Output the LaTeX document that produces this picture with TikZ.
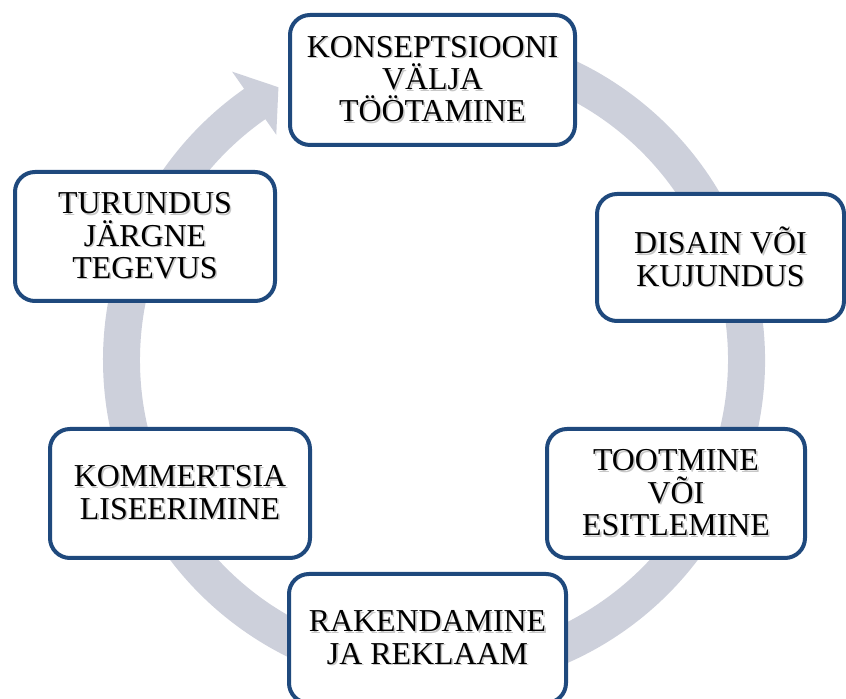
\documentclass[tikz,border=0pt]{standalone}
\usepackage{fontspec}
\setmainfont{Liberation Serif}
\usepackage{xcolor}
\usepackage{tikz}
\usetikzlibrary{calc}
\newcommand\shtxt[1]{\rlap{\hspace{1.6bp}\raisebox{-1.6bp}{\textcolor{black!22}{#1}}}#1}

\begin{document}
\begin{tikzpicture}[x=0.035278cm,y=0.035278cm]
\definecolor{c1}{RGB}{205,208,219}
\definecolor{c2}{RGB}{31,73,125}
\tikzset{stage/.style={draw=c2, line width=4bp, rounded corners=20bp, fill=white,
  align=center, inner sep=0pt, font=\fontsize{32}{32.5}\selectfont}}

\clip (0,0) rectangle (846,699);
\coordinate (A0) at (434,339);

\fill[c1] ($(A0)+(100:331)$) arc[start angle=100, end angle=-235, radius=331]
  -- ($(A0)+(-235:352)$) -- ($(A0)+(-240.3:314)$) -- ($(A0)+(-235:275)$)
  -- ($(A0)+(-235:294)$) arc[start angle=-235, end angle=100, radius=294] -- cycle;

\node[stage, minimum width=285bp, minimum height=130bp] (B1) at (432.5,619) {\shtxt{KONSEPTSIOONI}\\\shtxt{VÄLJA}\\\shtxt{TÖÖTAMINE}};
\node[stage, minimum width=247bp, minimum height=127bp] (B2) at (720.5,441.5) {\shtxt{DISAIN VÕI}\\\shtxt{KUJUNDUS}};
\node[stage, minimum width=258bp, minimum height=129bp] (B3) at (676,205.5) {\shtxt{TOOTMINE}\\\shtxt{VÕI}\\\shtxt{ESITLEMINE}};
\node[stage, minimum width=277bp, minimum height=129bp] (B4) at (427.5,60.5) {\shtxt{RAKENDAMINE}\\\shtxt{JA REKLAAM}};
\node[stage, minimum width=260bp, minimum height=129bp] (B5) at (180,205.5) {\shtxt{KOMMERTSIA}\\\shtxt{LISEERIMINE}};
\node[stage, minimum width=260bp, minimum height=129bp] (B6) at (145,462.5) {\shtxt{TURUNDUS}\\\shtxt{JÄRGNE}\\\shtxt{TEGEVUS}};
\end{tikzpicture}
\end{document}
